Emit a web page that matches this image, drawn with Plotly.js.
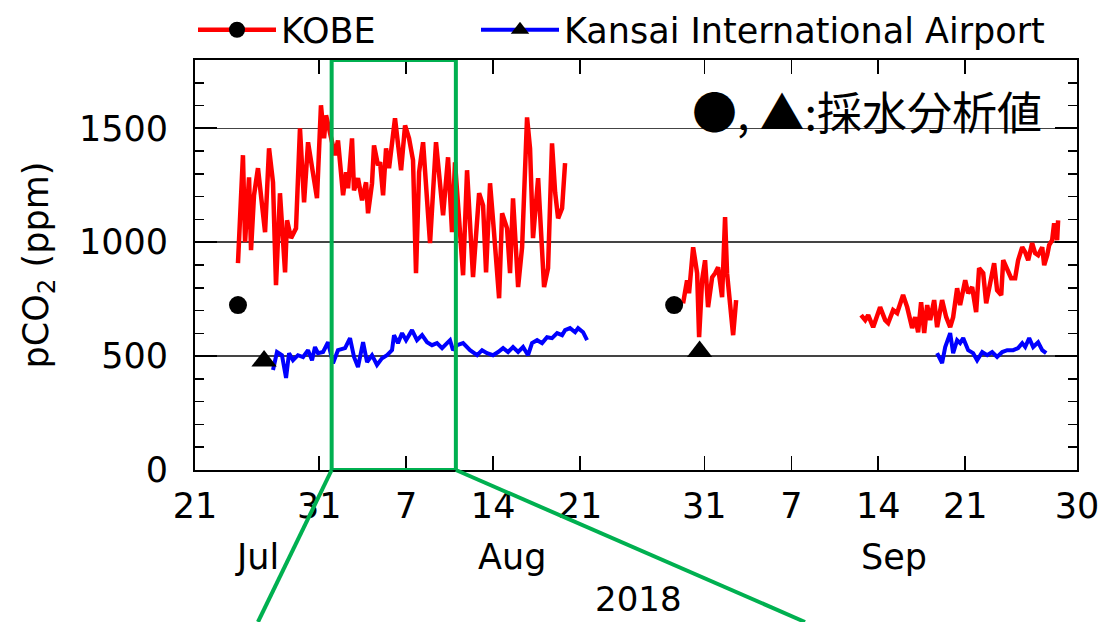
<!DOCTYPE html>
<html>
<head>
<meta charset="utf-8">
<script src="https://cdn.plot.ly/plotly-3.0.1.min.js"></script>
<style>html,body{margin:0;padding:0;background:#fff;}#chart{width:1104px;height:622px;}</style>
</head>
<body>
<div id="chart"></div>
<script>
// time axis values are days after 2018-07-21 00:00
var kobeDays = [
  3.46,3.86,4.03,4.35,4.51,4.75,5.07,5.31,5.64,5.96,6.28,6.52,6.84,7.25,7.41,7.73,8.13,8.45,8.78,9.10,
  9.42,9.82,10.14,10.39,10.55,10.87,11.27,11.51,11.92,12.16,12.32,12.64,12.80,13.12,13.45,13.77,13.93,
  14.25,14.41,14.73,14.90,15.14,15.38,15.62,16.10,16.59,16.91,17.23,17.55,17.79,18.04,18.36,18.92,19.40,
  19.73,19.97,20.37,20.69,20.93,21.58,21.90,22.38,22.87,23.19,23.43,23.75,24.07,24.48,24.72,25.12,25.36,
  25.60,26.01,26.33,26.73,26.97,27.21,27.62,28.10,28.42,28.74,28.99,29.23,29.55,29.79,
  null,
  39.29,39.61,39.77,40.10,40.42,40.58,40.82,41.06,41.30,41.63,41.87,42.11,42.43,42.67,42.83,43.08,43.32,43.56,
  null,
  53.62,53.95,54.19,54.59,55.15,55.56,55.80,56.20,56.52,57.00,57.33,57.73,57.97,58.21,58.45,58.70,58.94,
  59.18,59.50,59.74,60.14,60.47,60.79,61.03,61.35,61.59,62.00,62.24,62.56,62.88,63.12,63.45,63.69,64.01,
  64.33,64.57,64.90,65.06,65.38,65.70,66.02,66.26,66.59,66.83,67.07,67.39,67.63,67.87,68.20,68.36,68.60,
  68.76,69.00,69.16,69.40,69.48
];
var kobePco2 = [
  908,1382,1000,1285,965,1206,1325,1219,1044,1412,1263,811,1215,868,1096,1018,1061,1500,1175,1439,
  1325,1193,1601,1456,1557,1482,1382,1447,1206,1307,1237,1456,1228,1281,1184,1263,1127,
  1259,1425,1338,1351,1206,1412,1325,1544,1316,1513,1456,1360,864,1307,1439,996,1439,
  1237,1118,1373,1044,1351,855,1316,847,1215,1162,868,1259,1044,754,1127,1061,864,
  1193,803,978,1548,1412,1018,1281,803,886,1434,1219,1105,1149,1347,
  null,
  732,833,776,978,864,583,833,921,715,846,864,890,759,1110,864,715,592,746,
  null,
  680,658,680,627,715,658,645,702,689,768,715,623,671,605,737,601,724,
  658,746,627,746,671,627,671,798,724,833,776,803,693,886,864,732,833,
  908,789,768,921,877,842,842,921,978,956,921,996,952,943,978,899,943,
  987,1009,1083,1009,1096
];
var kixDays = [
  6.28,6.60,7.00,7.33,7.57,7.89,8.29,8.70,9.10,9.42,9.66,9.90,10.31,10.71,11.11,11.51,12.08,12.48,12.80,
  13.12,13.53,13.85,14.25,14.65,15.06,15.46,15.86,16.02,16.34,16.67,16.99,17.47,17.87,18.28,18.68,19.08,
  19.48,19.89,20.29,20.53,20.77,21.10,21.58,22.14,22.71,23.11,23.51,23.99,24.40,24.80,25.20,25.60,26.01,
  26.41,26.81,27.13,27.54,27.94,28.34,28.74,29.15,29.55,29.79,30.19,30.60,30.84,31.24,31.56,
  null,
  59.74,60.14,60.39,60.79,61.03,61.35,61.59,61.84,62.24,62.64,62.96,63.37,63.77,64.17,64.57,64.98,65.38,
  65.86,66.26,66.59,66.83,67.15,67.47,67.87,68.20,68.52
];
var kixPco2 = [
  439,518,504,404,513,482,504,496,526,482,540,513,518,561,469,526,535,579,496,
  452,561,474,504,461,491,504,526,592,557,601,570,614,570,592,561,548,
  557,535,557,570,526,548,557,526,504,526,513,504,518,535,518,540,518,
  540,504,557,570,557,583,579,601,592,614,623,605,623,605,570,
  null,
  513,469,540,601,513,570,557,579,526,513,482,518,504,518,496,518,526,
  526,535,557,540,579,540,561,526,513
];
// water-sample analysis values (null keeps the two samples unconnected)
var kobeSampleDays = [3.46, null, 38.57];
var kobeSampleVals = [724, null, 724];
var kixSampleDays = [5.56, null, 40.62];
var kixSampleVals = [478, null, 520];

var tickDates = ['2018-07-21','2018-07-31','2018-08-07','2018-08-14','2018-08-21','2018-08-31','2018-09-07','2018-09-14','2018-09-21','2018-09-30'];
var tickLabels = ['21','31','7','14','21','31','7','14','21','30'];
var monthDates = ['2018-07-26','2018-08-15 12:00','2018-09-15 06:00'];
var monthLabels = ['Jul','Aug','Sep'];
var yearDate = '2018-08-25 16:00';
var yearLabel = '2018';
var zoomStart = '2018-08-01', zoomEnd = '2018-08-11';

function d2s(d){
  if(d === null) return null;
  return new Date(Date.UTC(2018,6,21) + d*864e5).toISOString().slice(0,19).replace('T',' ');
}

var FONT = 'DejaVu Sans';
var RED = '#ff0000', BLUE = '#0000ff';
var traces = [
  {x: kobeDays.map(d2s), y: kobePco2, type:'scatter', mode:'lines', name:'KOBE', legendgroup:'kobe', showlegend:false,
   line:{color:RED, width:4.5}, connectgaps:false},
  {x: kixDays.map(d2s), y: kixPco2, type:'scatter', mode:'lines', name:'Kansai International Airport', legendgroup:'kix', showlegend:false,
   line:{color:BLUE, width:4}, connectgaps:false},
  {x: kobeSampleDays.map(d2s), y: kobeSampleVals, type:'scatter', mode:'lines+markers', name:'KOBE', legendgroup:'kobe',
   legend:'legend', line:{color:RED, width:4.5}, marker:{symbol:'circle', size:18, color:'#000'}, connectgaps:false},
  {x: kixSampleDays.map(d2s), y: kixSampleVals, type:'scatter', mode:'lines+markers', name:'Kansai International Airport', legendgroup:'kix',
   legend:'legend2', line:{color:BLUE, width:4}, marker:{symbol:'triangle-up', size:22, color:'#000'}, connectgaps:false}
];

var annotations = [];
for (var i=0;i<monthLabels.length;i++){
  annotations.push({x: monthDates[i], y: -0.212, xref:'x', yref:'paper', text: monthLabels[i], showarrow:false,
    font:{family:FONT, size:35, color:'#000'}, xanchor:'center', yanchor:'middle'});
}
annotations.push({x: yearDate, y: -0.315, xref:'x', yref:'paper', text: yearLabel, showarrow:false,
  font:{family:FONT, size:34, color:'#000'}, xanchor:'center', yanchor:'middle', borderpad:0});
annotations.push({x: 0.963, y: 0.878, xref:'paper', yref:'paper', text:'●, ▲:採水分析値', showarrow:false,
  font:{family:'Noto Sans CJK JP', size:45, color:'#000'}, xanchor:'right', yanchor:'middle'});

var green = '#00b050';
var shapes = [
  {type:'rect', xref:'x', yref:'y', x0: zoomStart, x1: zoomEnd, y0:0, y1:1800, line:{color:green, width:4}},
  {type:'line', xref:'paper', yref:'paper', x0: 11/71, y0:0, x1:0.0714, y1:-0.3707, line:{color:green, width:4}},
  {type:'line', xref:'paper', yref:'paper', x0: 21/71, y0:0, x1:0.6916, y1:-0.3707, line:{color:green, width:4}}
];

function legendCfg(xpx){
  return {orientation:'h', xref:'container', yref:'container', x: xpx/1104, xanchor:'left', y: 1 - 30/622, yanchor:'middle',
          font:{family:FONT, size:35, color:'#000'}, itemwidth:78, bgcolor:'rgba(0,0,0,0)', borderwidth:0};
}

var layout = {
  width:1104, height:622,
  margin:{l:195, r:27, t:60, b:152},
  paper_bgcolor:'#fff', plot_bgcolor:'#fff',
  font:{family:FONT, size:35, color:'#000'},
  showlegend:true,
  legend: legendCfg(193),
  legend2: legendCfg(476),
  xaxis:{type:'date', range:['2018-07-21','2018-09-30'], tickmode:'array', tickvals:tickDates, ticktext:tickLabels,
         ticks:'inside', ticklen:14, tickwidth:1.5, tickcolor:'#000', showgrid:false, zeroline:false,
         showline:true, linecolor:'#000', linewidth:2, mirror:'ticks', ticklabelstandoff:4,
         tickfont:{family:FONT, size:35, color:'#000'}},
  yaxis:{range:[0,1800], tickmode:'array', tickvals:[0,500,1000,1500], ticks:'inside', ticklen:22, tickwidth:2,
         tickcolor:'#000', showgrid:true, gridcolor:'#444', gridwidth:1.5, zeroline:false,
         showline:true, linecolor:'#000', linewidth:2, mirror:'allticks', ticklabelstandoff:18,
         minor:{dtick:100, tick0:0, ticks:'inside', ticklen:9, tickwidth:1.5, tickcolor:'#000', showgrid:false},
         tickfont:{family:FONT, size:35, color:'#000'},
         title:{text:'pCO<sub>2</sub> (ppm)', font:{family:FONT, size:35, color:'#000'}, standoff:20}},
  annotations: annotations,
  shapes: shapes
};

Plotly.newPlot('chart', traces, layout, {displayModeBar:false, staticPlot:true});
</script>
</body>
</html>
